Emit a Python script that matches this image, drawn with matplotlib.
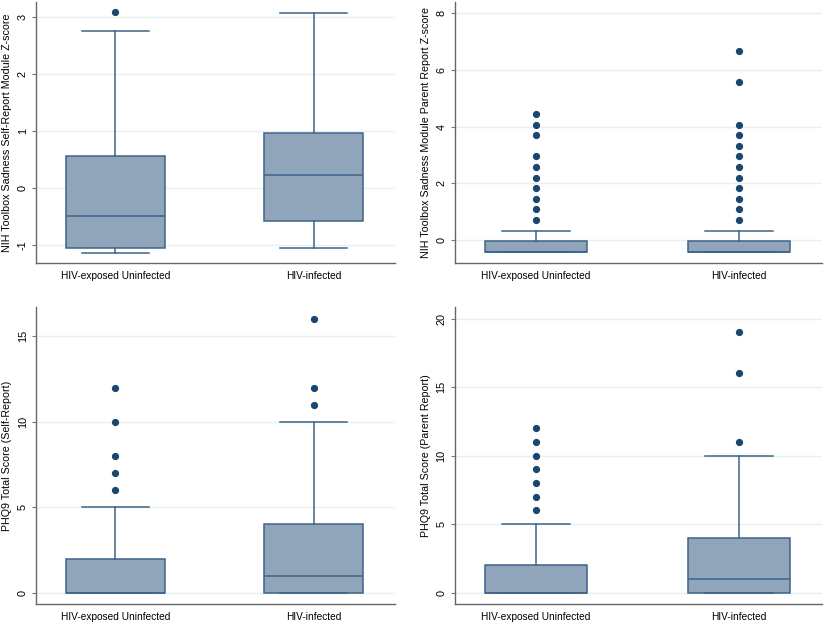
import matplotlib
matplotlib.use("Agg")
import matplotlib.pyplot as plt

plt.rcParams['font.family'] = ['Liberation Sans', 'DejaVu Sans']

groups = ["HIV-exposed Uninfected", "HIV-infected"]

# NIH Toolbox Sadness, self-report
sr_q1 = [-1.058, -0.579]
sr_med = [-0.503, 0.228]
sr_q3 = [0.556, 0.959]
sr_lo = [-1.146, -1.064]
sr_hi = [2.743, 3.064]
sr_out = [[3.076], []]

# NIH Toolbox Sadness, parent report
pr_q1 = [-0.435, -0.435]
pr_med = [-0.435, -0.435]
pr_q3 = [-0.05, -0.05]
pr_lo = [-0.435, -0.435]
pr_hi = [0.33, 0.33]
pr_out = [[0.72, 1.08, 1.46, 1.84, 2.2, 2.59, 2.95, 3.71, 4.07, 4.45],
          [0.72, 1.08, 1.46, 1.84, 2.2, 2.59, 2.95, 3.33, 3.71, 4.07, 5.58, 6.68]]

# PHQ9 self-report
phs_q1 = [0, 0]
phs_med = [0, 1]
phs_q3 = [2, 4]
phs_lo = [0, 0]
phs_hi = [5, 10]
phs_out = [[6, 7, 8, 10, 12], [11, 12, 16]]

# PHQ9 parent report
php_q1 = [0, 0]
php_med = [0, 1]
php_q3 = [2, 4]
php_lo = [0, 0]
php_hi = [5, 10]
php_out = [[6, 7, 8, 9, 10, 11, 12], [11, 16, 19]]

panels = [
    (sr_q1, sr_med, sr_q3, sr_lo, sr_hi, sr_out,
     "NIH Toolbox Sadness Self-Report Module Z-score", [-1, 0, 1, 2, 3], (-1.32, 3.26),
     [0.0435, 0.5785, 0.4336, 0.4183]),
    (pr_q1, pr_med, pr_q3, pr_lo, pr_hi, pr_out,
     "NIH Toolbox Sadness Module Parent Report Z-score", [0, 2, 4, 6, 8], (-0.81, 8.39),
     [0.5495, 0.5785, 0.4433, 0.4183]),
    (phs_q1, phs_med, phs_q3, phs_lo, phs_hi, phs_out,
     "PHQ9 Total Score (Self-Report)", [0, 5, 10, 15], (-0.66, 16.72),
     [0.0435, 0.0321, 0.4336, 0.476]),
    (php_q1, php_med, php_q3, php_lo, php_hi, php_out,
     "PHQ9 Total Score (Parent Report)", [0, 5, 10, 15, 20], (-0.83, 20.86),
     [0.5495, 0.0321, 0.4433, 0.476]),
]

fill = "#91a5ba"
edge = "#3d6389"
dot = "#1a4670"

fig = plt.figure(figsize=(8.28, 6.24), dpi=100)

for q1, med, q3, lo, hi, out, ylab, yt, ylim, pos in panels:
    ax = fig.add_axes(pos)
    stats = []
    for i in range(2):
        stats.append(dict(q1=q1[i], med=med[i], q3=q3[i], whislo=lo[i],
                          whishi=hi[i], fliers=out[i], label=groups[i]))
    ax.bxp(stats, positions=[1, 2], widths=0.5, capwidths=0.335, patch_artist=True,
           boxprops=dict(facecolor=fill, edgecolor=edge, linewidth=1.1),
           medianprops=dict(color=edge, linewidth=1.1),
           whiskerprops=dict(color=edge, linewidth=1.1),
           capprops=dict(color=edge, linewidth=1.1),
           flierprops=dict(marker='o', markerfacecolor=dot, markeredgecolor=dot,
                           markersize=4.2, linestyle='none'))
    ax.set_xlim(0.6, 2.41)
    ax.set_ylim(*ylim)
    ax.set_yticks(yt)
    ax.set_yticklabels([str(v) for v in yt], rotation=90, va='center', fontsize=7.8)
    ax.yaxis.grid(True, color="#e8f0f2", linewidth=1)
    ax.set_axisbelow(True)
    ax.set_ylabel(ylab, fontsize=7.7, labelpad=4)
    ax.tick_params(axis='x', length=0, labelsize=7.3, pad=6)
    ax.tick_params(axis='y', length=3, color="#777777", pad=3)
    for s in ['top', 'right']:
        ax.spines[s].set_visible(False)
    for s in ['left', 'bottom']:
        ax.spines[s].set_color("#666666")
        ax.spines[s].set_linewidth(1)

fig.savefig("out.png", dpi=100, facecolor="white")
